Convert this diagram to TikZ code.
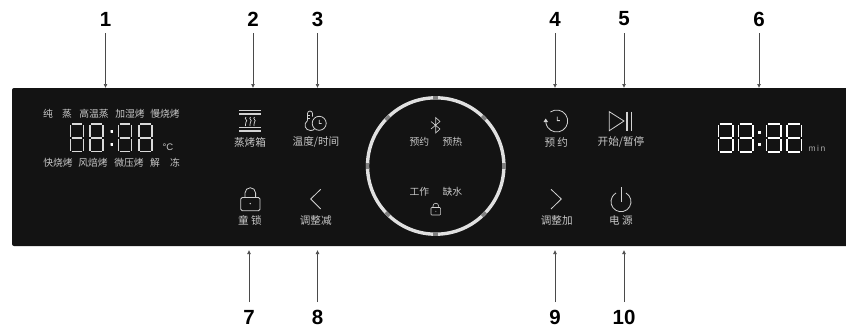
\documentclass[tikz,border=0pt]{standalone}
\usepackage{fontspec}
\setmainfont{Liberation Sans}
\newfontfamily\cjkf{Noto Sans CJK SC}
\usetikzlibrary{arrows.meta}
\definecolor{panelc}{HTML}{131313}
\definecolor{txtc}{HTML}{C8C8C8}
\definecolor{iconc}{HTML}{D2D2D2}
\definecolor{segc}{HTML}{DADADA}
\definecolor{arrc}{HTML}{4A4A4A}
\newcommand{\segdigit}[5]{% x y w h colour
 \begin{scope}[shift={(#1,#2)},line width=1.7pt,draw=#5,line cap=butt]
  \draw (1.2,0) -- (#3-1.2,0);
  \draw (1.2,#4/2) -- (#3-1.2,#4/2);
  \draw (1.2,#4) -- (#3-1.2,#4);
  \draw (0,1) -- (0,#4/2-1);
  \draw (#3,1) -- (#3,#4/2-1);
  \draw (0,#4/2+1) -- (0,#4-1);
  \draw (#3,#4/2+1) -- (#3,#4-1);
 \end{scope}}
\tikzset{
 x=1pt,y=-1pt,
 lbl/.style={text=txtc,font=\cjkf\fontsize{9.8}{10}\selectfont,inner sep=0pt},
 keylbl/.style={text=txtc,font=\cjkf\fontsize{10.6}{11}\selectfont,inner sep=0pt},
 numlbl/.style={text=black,font=\bfseries\fontsize{20.5}{20}\selectfont,inner sep=0pt},
 conn/.style={draw=arrc,line width=0.7pt,-{Latex[length=4pt,width=4pt]}},
 icon/.style={draw=iconc,line width=0.8pt},
}
\begin{document}
\begin{tikzpicture}
\useasboundingbox (0,0) rectangle (846,327);
\fill[panelc,rounded corners=2pt] (12,88) rectangle (850,246);
\clip (0,0) rectangle (846,327);
% numbers
\foreach \n/\t/\x/\y in {n1/1/105.5/19,n2/2/253/19,n3/3/317.5/19,n4/4/555/19,n5/5/624/19,n6/6/759/19,n7/7/249/317,n8/8/317.5/317,n9/9/555/317,n10/10/624/317}
  \node[numlbl] (\n) at (\x,\y) {\t};
% connectors
\foreach \n/\x in {1/105.5,2/253,3/317.5,4/555,5/624,6/759}{
  \coordinate (t\n) at (\x,88);
  \draw[conn] (n\n.south |- 0,33) -- (t\n);
}
\foreach \n/\x in {7/249,8/317.5,9/555,10/624}{
  \coordinate (t\n) at (\x,250);
  \draw[conn] (n\n.north |- 0,302) -- (t\n);
}
% left display
\foreach \x in {70.5,90,118.5,139} \segdigit{\x}{124}{13}{27.5}{segc}
\fill[white] (110.8,130) rectangle (112.8,132.5) (110.8,143) rectangle (112.8,145.5);
\node[lbl,font=\fontsize{9.5}{10}\selectfont] (degc) at (168,147) {°C};
\foreach \n/\t/\x in {a/纯/48,b/蒸/67,c/高温蒸/94,d/加湿烤/130,e/慢烧烤/165}
  \node[lbl] (top\n) at (\x,113.5) {\t};
\foreach \n/\t/\x in {a/快烧烤/58,b/风焙烤/93,c/微压烤/129,d/解/155,e/冻/175}
  \node[lbl] (bot\n) at (\x,163) {\t};
% right display
\foreach \x in {718.5,738.5,766.5,787} \segdigit{\x}{124}{14.5}{28}{white}
\fill[white] (758,131) rectangle (760.5,133.5) (758,143) rectangle (760.5,145.5);
\node[lbl,font=\fontsize{8.5}{9}\selectfont,text=txtc!85!black] (minl) at (817,148) {m\,i\,n};
% steam-box key
\draw[icon,line width=1.5pt] (239,110.5) -- (261,110.5) (239,114) -- (261,114) (239,127.5) -- (261,127.5) (239,131) -- (261,131);
\foreach \x in {246,250.5,254.5}
  \draw[icon,line width=0.7pt] (\x,117) .. controls (\x-2.5,119) and (\x+2.5,120) .. (\x,122) .. controls (\x-2,123.5) and (\x+1,125) .. (\x-0.5,126);
\node[keylbl] (k1) at (250,142) {蒸烤箱};
% temperature/time key
\draw[icon] (307.5,120.5) -- (307.5,113.5) arc[start angle=180,end angle=360,radius=2.5] -- (312.5,116.5);
\draw[icon] (307.5,120.5) .. controls (303,124) and (305,130.5) .. (310.5,130.5) .. controls (312.5,130.5) and (313.5,130) .. (314.5,129);
\draw[icon] (319.2,123.3) circle[radius=7];
\fill[iconc] (318.8,119.8) rectangle (319.6,123.8) (319.6,123) rectangle (321.6,123.8);
\draw[icon,line width=0.6pt] (307.5,115) -- (309.5,115) (307.5,118) -- (309.5,118);
\node[keylbl] (k2) at (316,142) {温度/时间};
% lock key
\draw[icon,rounded corners=1.5pt] (240.7,197.5) rectangle (260,210.7);
\draw[icon] (245,197.5) -- (245,193) arc[start angle=180,end angle=360,radius=5.3] -- (255.6,197.5);
\fill[iconc] (250.2,203.6) circle[radius=0.8];
\node[keylbl] (k3) at (250,220) {童 锁};
% minus key
\draw[icon] (320.7,189.3) -- (310.7,199) -- (320.7,209);
\node[keylbl] (k4) at (315.7,220) {调整减};
% ring
\draw[draw=white!88!black,line width=3.4pt] (435.7,166) circle[radius=68.2];
\foreach \a in {0,45,...,315}
  \draw[draw=white!50!black,line width=3.4pt] (\a-2.2:68.2) ++(435.7,166) arc[start angle=\a-2.2,end angle=\a+2.2,radius=68.2];
% ring contents
\draw[icon,line width=0.6pt] (431,121.5) -- (440,129) -- (435.7,133) -- (435.7,117.5) -- (440,121.5) -- (431,129);
\node[lbl] (r1) at (419.3,141.7) {预约};
\node[lbl] (r2) at (452.3,141.7) {预热};
\node[lbl] (r3) at (419.3,191.7) {工作};
\node[lbl] (r4) at (452.3,191.7) {缺水};
\draw[icon,line width=0.6pt,rounded corners=0.8pt] (431,207.5) rectangle (440.6,215);
\draw[icon,line width=0.6pt] (433,207.5) -- (433,206) arc[start angle=180,end angle=360,radius=2.8] -- (438.6,207.5);
\fill[iconc] (435.8,211.3) circle[radius=0.5];
% clock key
\draw[icon] (550.4,112) arc[start angle=235,end angle=540,radius=11];
\fill[iconc] (545.7,118.5) -- (548,122) -- (543.5,122) -- cycle;
\fill[iconc] (556.9,116.7) rectangle (557.7,121) (557.7,120.2) rectangle (559.8,121);
\node[keylbl] (k5) at (556.3,142) {预 约};
% start key
\draw[icon] (609.3,111.7) -- (609.3,130.7) -- (624,121) -- cycle;
\draw[icon,line width=1.2pt] (627,111.7) -- (627,130.7) (631.7,111.7) -- (631.7,130.7);
\node[keylbl] (k6) at (621,142) {开始/暂停};
% plus key
\draw[icon] (551,189.3) -- (561.3,199) -- (551,209);
\node[keylbl] (k7) at (556.7,220) {调整加};
% power key
\draw[icon] (626,193.04) arc[start angle=-60,end angle=240,radius=10];
\draw[icon,line width=1pt] (621,187.3) -- (621,201.7);
\node[keylbl] (k8) at (621,220) {电 源};
\end{tikzpicture}
\end{document}
